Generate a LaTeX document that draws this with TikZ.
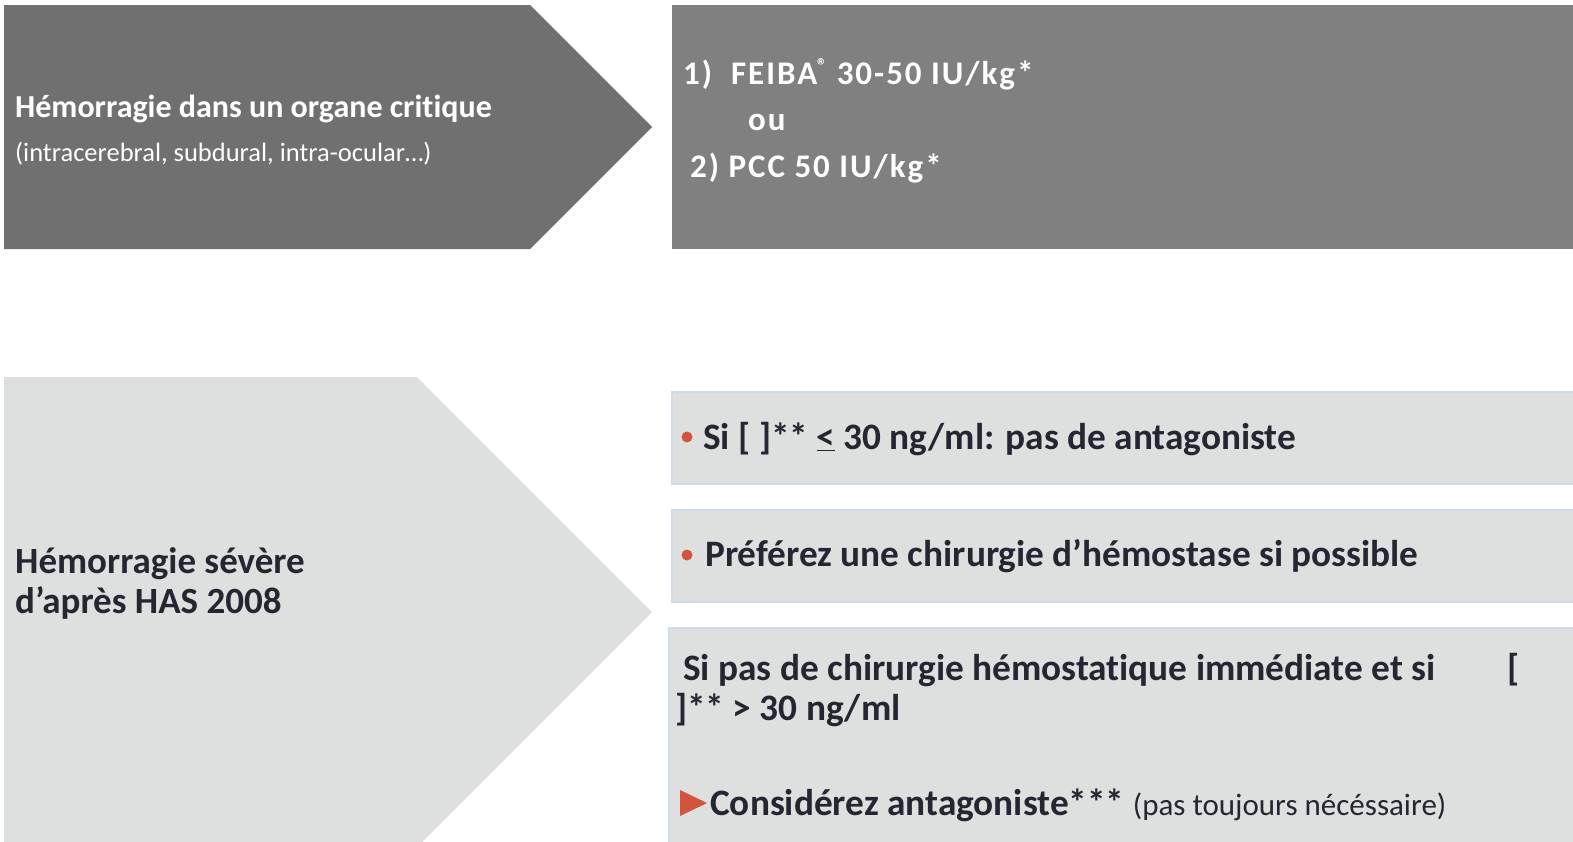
\documentclass[tikz,border=0pt]{standalone}
\usepackage{fontspec}
\setmainfont{Carlito}[Ligatures=NoCommon]
\newfontfamily\spacedfont{Carlito}[Ligatures=NoCommon, LetterSpace=6]
\usepackage{xcolor}
\usepackage{tikz}

\definecolor{chevdark}{HTML}{707070}
\definecolor{boxdark}{HTML}{808080}
\definecolor{paleback}{HTML}{DDE0DF}
\definecolor{paleedge}{HTML}{CFDAEA}
\definecolor{inknavy}{HTML}{262633}
\definecolor{markred}{HTML}{D4533B}

\tikzset{
  whitebold/.style={anchor=base west, inner sep=0pt, text=white, font=\bfseries\fontsize{32}{38}\selectfont},
  whitewide/.style={anchor=base west, inner sep=0pt, text=white, font=\spacedfont\bfseries\fontsize{33}{38}\selectfont},
  whitereg/.style={anchor=base west, inner sep=0pt, text=white, font=\fontsize{26.5}{31}\selectfont},
  darkbold/.style={anchor=base west, inner sep=0pt, text=inknavy, font=\bfseries\fontsize{37}{44}\selectfont},
  navybold/.style={anchor=base west, inner sep=0pt, text=inknavy, font=\bfseries\fontsize{37.3}{44}\selectfont}
}

\begin{document}
\begin{tikzpicture}[x=1pt,y=-1pt]
\useasboundingbox (0,0) rectangle (1573,841);
\clip (0,0) rectangle (1573,841);

% top row
\fill[chevdark] (4,5)--(530,5)--(652,127)--(530,249)--(4,249)--cycle;
\fill[boxdark] (672,5) rectangle (1573,249);

\node[whitebold] (crit) at (15,117) {Hémorragie dans un organe critique};
\node[whitereg] (critsub) at (15,161) {(intracerebral, subdural, intra-ocular…)};

\node[whitewide] (feiba) at (683,84) {1)\ \ FEIBA\raisebox{0.75ex}{\fontsize{20}{20}\selectfont ®} 30-50 IU/kg*};
\node[whitewide] (ou) at (748,130) {ou};
\node[whitewide] (pcc) at (690,177) {2) PCC 50 IU/kg*};

% bottom row
\fill[paleback] (4,377)--(417,377)--(652,612)--(417,847)--(4,847)--cycle;
\draw[fill=paleback, draw=paleedge, line width=1.2pt] (672,392) rectangle (1580,484);
\draw[fill=paleback, draw=paleedge, line width=1.2pt] (672,510) rectangle (1580,602);
\draw[fill=paleback, draw=paleedge, line width=1.2pt] (669,628) rectangle (1580,850);

\node[darkbold] (sev) at (15,573) {Hémorragie sévère};
\node[darkbold] (has) at (15,613) {d’après HAS 2008};

\fill[markred] (687,437) circle (5.5);
\node[navybold] (seuilbas) at (703,449) {Si [ ]** \underline{<} 30 ng/ml: pas de antagoniste};
\fill[markred] (687,555) circle (5.5);
\node[navybold] (chir) at (705,566) {Préférez une chirurgie d’hémostase si possible};

\node[navybold] (sipas) at (683,680) {Si pas de chirurgie hémostatique immédiate et si};
\node[navybold] (crochet) at (1507,680) {[};
\node[navybold] (seuilhaut) at (675,720) {]** > 30 ng/ml};

\fill[markred] (680,790)--(707,803)--(680,816)--cycle;
\node[navybold] (cons) at (710,815) {Considérez antagoniste*** {\mdseries\fontsize{31}{36}\selectfont (pas toujours nécéssaire)}};
\end{tikzpicture}
\end{document}
